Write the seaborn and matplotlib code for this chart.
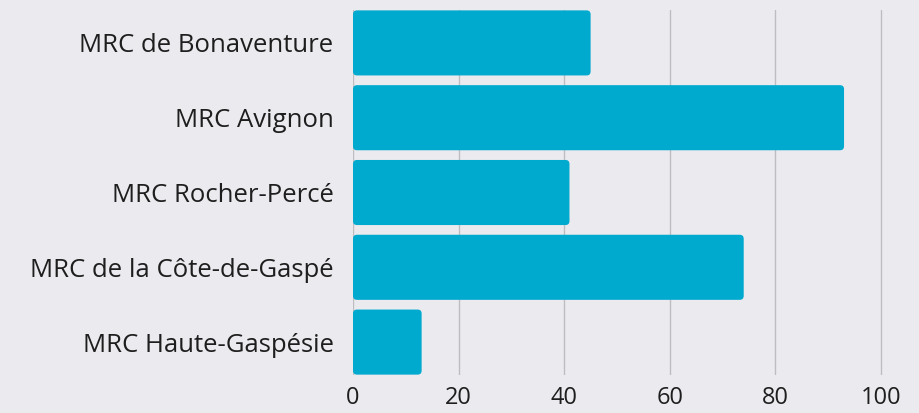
import numpy as np
import pandas as pd
import matplotlib
matplotlib.use("Agg")
import matplotlib.pyplot as plt
import seaborn as sns
from matplotlib.patches import FancyBboxPatch

regions = ["MRC de Bonaventure", "MRC Avignon", "MRC Rocher-Percé",
           "MRC de la Côte-de-Gaspé", "MRC Haute-Gaspésie"]
values = [45, 93, 41, 74, 13]
xticks = [0, 20, 40, 60, 80, 100]

bg = "#ebeaef"
bar_color = "#00aacf"

sns.set_theme(style="whitegrid")
plt.rcParams['font.family'] = ['Open Sans', 'DejaVu Sans']

df = pd.DataFrame({"region": regions, "value": values})

fig = plt.figure(figsize=(9.19, 4.13), dpi=100, facecolor=bg)
ax = fig.add_axes([353 / 919, 38 / 413, 566 / 919, 365 / 413])
ax.set_facecolor(bg)

sns.barplot(data=df, x="value", y="region", color=bar_color, saturation=1,
            width=0.87, ax=ax)

ax.set_xlim(0, 107.2)
ax.set_ylim(4.44, -0.44)

# swap the square bars for rounded ones
px_x = 566 / 107.2
px_y = 365 / 4.88
r = 4 / px_x
aspect = px_x / px_y
for p in list(ax.patches):
    x0, y0 = p.get_x(), p.get_y()
    w, h = p.get_width(), p.get_height()
    rb = FancyBboxPatch((x0, y0), w, h,
                        boxstyle=f"round,pad=0,rounding_size={r}",
                        mutation_aspect=aspect, facecolor=bar_color,
                        edgecolor="none", zorder=3)
    p.remove()
    ax.add_patch(rb)

ax.set_xticks(xticks)
ax.grid(axis="x", color="#bdbdc2", linewidth=1)
ax.grid(axis="y", visible=False)
ax.set_axisbelow(True)
for s in ax.spines.values():
    s.set_visible(False)
ax.set_xlabel("")
ax.set_ylabel("")
ax.tick_params(axis="y", length=0, pad=14, labelsize=18.5, labelcolor="#1e1e1e")
ax.tick_params(axis="x", length=0, pad=8, labelsize=17, labelcolor="#1e1e1e")

fig.savefig("out.png", dpi=100, facecolor=bg)
